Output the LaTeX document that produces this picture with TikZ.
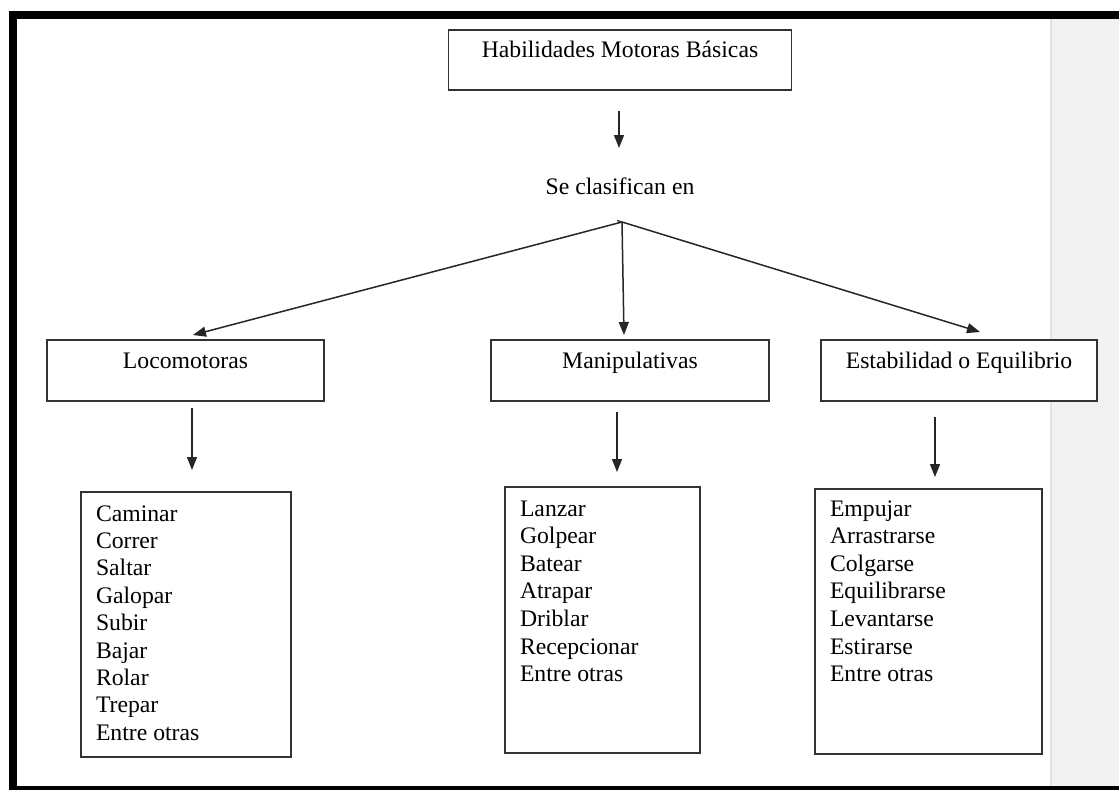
\documentclass[tikz,border=0pt]{standalone}
\usepackage{fontspec}
\setmainfont{Liberation Serif}
\usetikzlibrary{arrows.meta}
\definecolor{edge}{HTML}{333333}
\definecolor{panel}{HTML}{F2F2F2}
\definecolor{panelline}{HTML}{E2E2E2}
\begin{document}
\begin{tikzpicture}[x=1pt,y=-1pt,
  box/.style={draw=edge, line width=1.5pt, fill=white, inner sep=0pt, outer sep=0pt},
  txt/.style={font=\fontsize{23.7}{27.5}\selectfont, inner sep=0pt, outer sep=0pt, text=black},
  catbox/.style={box, txt, minimum height=61pt, text height=16pt, text depth=21pt},
  arr/.style={draw=black!85, line width=1.5pt, -{Triangle[length=13pt,width=10pt]}},
]
\useasboundingbox (0,0) rectangle (1119,790);
\fill[white] (0,0) rectangle (1119,790);
\fill[panel] (1051,19) rectangle (1119,786);
\draw[panelline, line width=2pt] (1051,19) -- (1051,786);
\fill[black] (9,11) rectangle (1119,19);
\fill[black] (9,11) rectangle (17,790);
\fill[black] (9,786) rectangle (1119,790);

% title
\node[box, txt, minimum width=343pt, minimum height=60pt, text height=16pt, text depth=22pt] (top) at (620,60) {Habilidades Motoras Básicas};
\node[txt, anchor=base] (clas) at (620,194) {Se clasifican en};
\coordinate (br) at (622,222);

% categories
\node[catbox, minimum width=277pt] (loc) at (185.5,370.5) {Locomotoras};
\node[catbox, minimum width=278pt] (man) at (630,370.5) {Manipulativas};
\node[catbox, minimum width=276pt] (est) at (959,370.5) {Estabilidad o Equilibrio};

% lists
\node[box, minimum width=210pt, minimum height=265pt] (locl) at (186,624.5) {};
\node[box, minimum width=195pt, minimum height=266pt] (manl) at (602.5,620) {};
\node[box, minimum width=227pt, minimum height=265pt] (estl) at (928.5,621.5) {};

\foreach \t [count=\i] in {Caminar,Correr,Saltar,Galopar,Subir,Bajar,Rolar,Trepar,Entre otras}
  \node[txt, anchor=base west] (loc\i) at (96,{521+27.4*(\i-1)}) {\t};
\foreach \t [count=\i] in {Lanzar,Golpear,Batear,Atrapar,Driblar,Recepcionar,Entre otras}
  \node[txt, anchor=base west] (man\i) at (520,{516+27.6*(\i-1)}) {\t};
\foreach \t [count=\i] in {Empujar,Arrastrarse,Colgarse,Equilibrarse,Levantarse,Estirarse,Entre otras}
  \node[txt, anchor=base west] (est\i) at (830,{516+27.6*(\i-1)}) {\t};

% connectors
\draw[arr] ([shift={(-1,21)}]top.south) -- ([shift={(-1,58)}]top.south);
\draw[draw=black!85, line width=1.2pt] (br) -- ++(-5,-1.5);
\draw[arr] (br) -- ([shift={(7.5,-5)}]loc.north);
\draw[arr] (br) -- ([shift={(-6,-5)}]man.north);
\draw[arr] (br) -- ([shift={(21,-8)}]est.north);
\draw[arr] ([shift={(6.5,7)}]loc.south) -- ([shift={(6.5,69)}]loc.south);
\draw[arr] ([shift={(-13,11)}]man.south) -- ([shift={(-13,71)}]man.south);
\draw[arr] ([shift={(-24,16)}]est.south) -- ([shift={(-24,76)}]est.south);
\end{tikzpicture}
\end{document}
